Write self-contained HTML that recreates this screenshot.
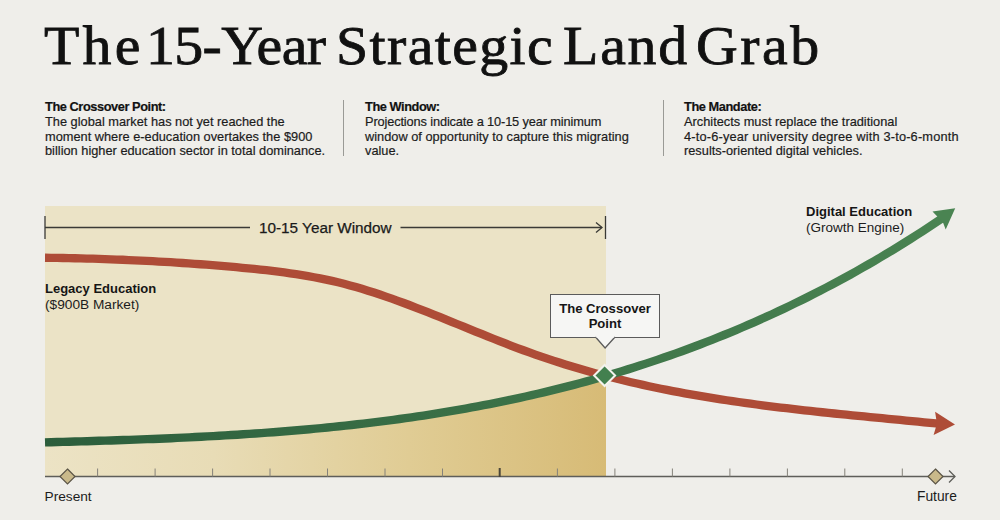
<!DOCTYPE html>
<html><head><meta charset="utf-8"><style>
html,body{margin:0;padding:0}
body{width:1000px;height:520px;background:#EFEEEA;position:relative;overflow:hidden;font-family:"Liberation Sans",sans-serif;color:#1b1b1b}
h1{position:absolute;left:44px;top:13.5px;margin:0;font-family:"Liberation Serif",serif;font-weight:normal;font-size:54.5px;line-height:64px;color:#111;white-space:nowrap;-webkit-text-stroke:0.8px #111;width:900px;height:64px}
h1 span{position:absolute;top:0;transform:scaleX(1.062);transform-origin:0 0}
.col{position:absolute;top:100px;font-size:13.3px;line-height:14.75px;color:#1c1c1c;white-space:nowrap;transform:scaleX(0.962);transform-origin:0 0;-webkit-text-stroke:0.2px #1c1c1c}
.col b{color:#111;letter-spacing:-0.45px}
.div{position:absolute;top:100px;width:1px;height:56px;background:#9a9a96}
svg{position:absolute;left:0;top:0}
.lbl{position:absolute;font-size:13px;line-height:16px;color:#1c1c1c;white-space:nowrap}
.lbl b{color:#151515}
.box{position:absolute;left:550px;top:294px;width:110px;height:44px;border:1.3px solid #5b5b5b;background:#F6F6F4;box-sizing:border-box;text-align:center;font-weight:bold;font-size:13.1px;line-height:15.5px;padding-top:5.5px;color:#151515}
</style></head><body>
<svg width="1000" height="520" viewBox="0 0 1000 520">
<defs>
<linearGradient id="gold" x1="45" y1="0" x2="606" y2="0" gradientUnits="userSpaceOnUse">
<stop offset="0" stop-color="#ECE3C5"/><stop offset="0.3" stop-color="#E8DCB6"/><stop offset="0.65" stop-color="#E0CC94"/><stop offset="1" stop-color="#D7BB76"/>
</linearGradient>
<linearGradient id="gr" x1="45" y1="0" x2="955" y2="0" gradientUnits="userSpaceOnUse">
<stop offset="0" stop-color="#2C5E3C"/><stop offset="1" stop-color="#4A8452"/>
</linearGradient>
<clipPath id="pc"><rect x="45" y="206" width="561" height="271"/></clipPath>
</defs>
<rect x="45" y="206" width="561" height="271" fill="#EBE3C6"/>
<path d="M45.00,442.35 L51.01,442.19 L57.02,442.03 L63.03,441.87 L69.03,441.70 L75.04,441.53 L81.05,441.36 L87.06,441.19 L93.07,441.01 L99.08,440.82 L105.09,440.64 L111.10,440.44 L117.10,440.25 L123.11,440.04 L129.12,439.83 L135.13,439.62 L141.14,439.40 L147.15,439.17 L153.16,438.93 L159.17,438.69 L165.17,438.44 L171.18,438.18 L177.19,437.91 L183.20,437.63 L189.21,437.35 L195.22,437.05 L201.23,436.75 L207.24,436.43 L213.24,436.11 L219.25,435.77 L225.26,435.42 L231.27,435.06 L237.28,434.69 L243.29,434.31 L249.30,433.92 L255.31,433.51 L261.31,433.09 L267.32,432.65 L273.33,432.20 L279.34,431.74 L285.35,431.26 L291.36,430.77 L297.37,430.26 L303.38,429.74 L309.38,429.20 L315.39,428.65 L321.40,428.08 L327.41,427.49 L333.42,426.89 L339.43,426.26 L345.44,425.62 L351.44,424.97 L357.45,424.29 L363.46,423.59 L369.47,422.88 L375.48,422.15 L381.49,421.39 L387.50,420.62 L393.51,419.82 L399.51,419.01 L405.52,418.17 L411.53,417.32 L417.54,416.44 L423.55,415.54 L429.56,414.61 L435.57,413.66 L441.58,412.69 L447.58,411.70 L453.59,410.68 L459.60,409.64 L465.61,408.58 L471.62,407.49 L477.63,406.37 L483.64,405.23 L489.65,404.06 L495.65,402.87 L501.66,401.65 L507.67,400.41 L513.68,399.13 L519.69,397.83 L525.70,396.50 L531.71,395.15 L537.72,393.76 L543.72,392.35 L549.73,390.91 L555.74,389.44 L561.75,387.93 L567.76,386.40 L573.77,384.84 L579.78,383.25 L585.79,381.62 L591.79,379.97 L597.80,378.28 L603.81,376.57 L609.82,374.81 L615.83,373.03 L621.84,371.22 L627.85,369.37 L633.86,367.48 L639.86,365.57 L645.87,363.62 L651.88,361.63 L657.89,359.61 L663.90,357.56 L669.91,355.47 L675.92,353.34 L681.92,351.18 L687.93,348.98 L693.94,346.74 L699.95,344.47 L705.96,342.16 L711.97,339.81 L717.98,337.43 L723.99,335.01 L729.99,332.54 L736.00,330.04 L742.01,327.50 L748.02,324.92 L754.03,322.30 L760.04,319.64 L766.05,316.94 L772.06,314.20 L778.06,311.42 L784.07,308.59 L790.08,305.73 L796.09,302.82 L802.10,299.87 L808.11,296.88 L814.12,293.84 L820.13,290.76 L826.13,287.64 L832.14,284.47 L838.15,281.26 L844.16,278.00 L850.17,274.70 L856.18,271.35 L862.19,267.96 L868.20,264.52 L874.20,261.04 L880.21,257.50 L886.22,253.93 L892.23,250.30 L898.24,246.63 L904.25,242.91 L910.26,239.14 L916.27,235.32 L922.27,231.45 L928.28,227.54 L934.29,223.57 L940.30,219.56 L940,477 L45,477 Z" fill="url(#gold)" clip-path="url(#pc)"/>
<g stroke="#3a3a36" stroke-width="1.3" fill="none">
<line x1="45" y1="216" x2="45" y2="239"/>
<line x1="45" y1="227.5" x2="250" y2="227.5"/>
<line x1="400.5" y1="227.5" x2="602" y2="227.5"/>
<polyline points="596,222.5 602,227.5 596,232.5"/>
<line x1="605.5" y1="216" x2="605.5" y2="239"/>
</g>
<g stroke="#5e5e5a" stroke-width="1.3" fill="none">
<line x1="45" y1="476.5" x2="955" y2="476.5"/>
<polyline points="949,470.5 955,476.5 949,482.5"/>
</g>
<g stroke="#85827a" stroke-width="1" fill="none"><line x1="97.6" y1="468.5" x2="97.6" y2="476.5"/><line x1="155.1" y1="468.5" x2="155.1" y2="476.5"/><line x1="212.6" y1="468.5" x2="212.6" y2="476.5"/><line x1="270.0" y1="468.5" x2="270.0" y2="476.5"/><line x1="327.5" y1="468.5" x2="327.5" y2="476.5"/><line x1="385.0" y1="468.5" x2="385.0" y2="476.5"/><line x1="442.5" y1="468.5" x2="442.5" y2="476.5"/><line x1="557.4" y1="468.5" x2="557.4" y2="476.5"/><line x1="614.9" y1="468.5" x2="614.9" y2="476.5"/><line x1="672.4" y1="468.5" x2="672.4" y2="476.5"/><line x1="729.9" y1="468.5" x2="729.9" y2="476.5"/><line x1="787.4" y1="468.5" x2="787.4" y2="476.5"/><line x1="844.8" y1="468.5" x2="844.8" y2="476.5"/><line x1="902.3" y1="468.5" x2="902.3" y2="476.5"/></g><line x1="499.7" y1="468" x2="499.7" y2="477" stroke="#4a463a" stroke-width="2"/>
<path d="M67.5,469 L75,476.5 L67.5,484 L60,476.5 Z" fill="#C9B98A" stroke="#5a5446" stroke-width="1.2"/>
<path d="M935.5,469 L943,476.5 L935.5,484 L928,476.5 Z" fill="#C9B98A" stroke="#5a5446" stroke-width="1.2"/>
<path d="M45.00,257.73 L50.98,257.80 L56.96,257.89 L62.94,258.00 L68.92,258.11 L74.90,258.24 L80.88,258.38 L86.86,258.54 L92.84,258.71 L98.82,258.89 L104.80,259.09 L110.78,259.30 L116.76,259.53 L122.74,259.77 L128.72,260.03 L134.70,260.30 L140.68,260.58 L146.66,260.88 L152.64,261.19 L158.62,261.52 L164.60,261.87 L170.58,262.23 L176.56,262.60 L182.54,262.99 L188.52,263.40 L194.50,263.82 L200.48,264.26 L206.46,264.71 L212.44,265.19 L218.42,265.67 L224.40,266.18 L230.38,266.70 L236.36,267.23 L242.34,267.79 L248.32,268.36 L254.30,268.95 L260.28,269.58 L266.26,270.23 L272.23,270.93 L278.21,271.66 L284.19,272.44 L290.17,273.28 L296.15,274.16 L302.13,275.11 L308.11,276.12 L314.09,277.21 L320.07,278.36 L326.05,279.59 L332.03,280.91 L338.01,282.32 L343.99,283.81 L349.97,285.40 L355.95,287.07 L361.93,288.82 L367.91,290.66 L373.89,292.56 L379.87,294.53 L385.85,296.56 L391.83,298.66 L397.81,300.80 L403.79,303.00 L409.77,305.24 L415.75,307.52 L421.73,309.84 L427.71,312.19 L433.69,314.56 L439.67,316.96 L445.65,319.37 L451.63,321.80 L457.61,324.23 L463.59,326.67 L469.57,329.11 L475.55,331.54 L481.53,333.96 L487.51,336.37 L493.49,338.76 L499.47,341.12 L505.45,343.46 L511.43,345.76 L517.41,348.02 L523.39,350.25 L529.37,352.42 L535.35,354.55 L541.33,356.62 L547.31,358.64 L553.29,360.62 L559.27,362.54 L565.25,364.42 L571.23,366.25 L577.21,368.04 L583.19,369.78 L589.17,371.48 L595.15,373.13 L601.13,374.74 L607.11,376.31 L613.09,377.84 L619.07,379.33 L625.05,380.77 L631.03,382.19 L637.01,383.56 L642.99,384.90 L648.97,386.20 L654.95,387.46 L660.93,388.70 L666.91,389.89 L672.89,391.06 L678.87,392.20 L684.85,393.30 L690.83,394.38 L696.81,395.42 L702.79,396.44 L708.77,397.43 L714.74,398.40 L720.72,399.34 L726.70,400.25 L732.68,401.15 L738.66,402.01 L744.64,402.86 L750.62,403.69 L756.60,404.49 L762.58,405.28 L768.56,406.04 L774.54,406.79 L780.52,407.53 L786.50,408.24 L792.48,408.94 L798.46,409.63 L804.44,410.31 L810.42,410.97 L816.40,411.62 L822.38,412.25 L828.36,412.88 L834.34,413.50 L840.32,414.11 L846.30,414.72 L852.28,415.31 L858.26,415.90 L864.24,416.49 L870.22,417.07 L876.20,417.65 L882.18,418.23 L888.16,418.80 L894.14,419.38 L900.12,419.95 L906.10,420.53 L912.08,421.10 L918.06,421.68 L924.04,422.27 L930.02,422.86 L936.00,423.45 l3,0.2" fill="none" stroke="#AE4C37" stroke-width="8.3"/>
<path d="M955,424.5 L935.1,411.7 L936.2,418.9 L935.8,427.5 L933.6,435 Z" fill="#AE4C37"/>
<path d="M45.00,442.35 L51.01,442.19 L57.02,442.03 L63.03,441.87 L69.03,441.70 L75.04,441.53 L81.05,441.36 L87.06,441.19 L93.07,441.01 L99.08,440.82 L105.09,440.64 L111.10,440.44 L117.10,440.25 L123.11,440.04 L129.12,439.83 L135.13,439.62 L141.14,439.40 L147.15,439.17 L153.16,438.93 L159.17,438.69 L165.17,438.44 L171.18,438.18 L177.19,437.91 L183.20,437.63 L189.21,437.35 L195.22,437.05 L201.23,436.75 L207.24,436.43 L213.24,436.11 L219.25,435.77 L225.26,435.42 L231.27,435.06 L237.28,434.69 L243.29,434.31 L249.30,433.92 L255.31,433.51 L261.31,433.09 L267.32,432.65 L273.33,432.20 L279.34,431.74 L285.35,431.26 L291.36,430.77 L297.37,430.26 L303.38,429.74 L309.38,429.20 L315.39,428.65 L321.40,428.08 L327.41,427.49 L333.42,426.89 L339.43,426.26 L345.44,425.62 L351.44,424.97 L357.45,424.29 L363.46,423.59 L369.47,422.88 L375.48,422.15 L381.49,421.39 L387.50,420.62 L393.51,419.82 L399.51,419.01 L405.52,418.17 L411.53,417.32 L417.54,416.44 L423.55,415.54 L429.56,414.61 L435.57,413.66 L441.58,412.69 L447.58,411.70 L453.59,410.68 L459.60,409.64 L465.61,408.58 L471.62,407.49 L477.63,406.37 L483.64,405.23 L489.65,404.06 L495.65,402.87 L501.66,401.65 L507.67,400.41 L513.68,399.13 L519.69,397.83 L525.70,396.50 L531.71,395.15 L537.72,393.76 L543.72,392.35 L549.73,390.91 L555.74,389.44 L561.75,387.93 L567.76,386.40 L573.77,384.84 L579.78,383.25 L585.79,381.62 L591.79,379.97 L597.80,378.28 L603.81,376.57 L609.82,374.81 L615.83,373.03 L621.84,371.22 L627.85,369.37 L633.86,367.48 L639.86,365.57 L645.87,363.62 L651.88,361.63 L657.89,359.61 L663.90,357.56 L669.91,355.47 L675.92,353.34 L681.92,351.18 L687.93,348.98 L693.94,346.74 L699.95,344.47 L705.96,342.16 L711.97,339.81 L717.98,337.43 L723.99,335.01 L729.99,332.54 L736.00,330.04 L742.01,327.50 L748.02,324.92 L754.03,322.30 L760.04,319.64 L766.05,316.94 L772.06,314.20 L778.06,311.42 L784.07,308.59 L790.08,305.73 L796.09,302.82 L802.10,299.87 L808.11,296.88 L814.12,293.84 L820.13,290.76 L826.13,287.64 L832.14,284.47 L838.15,281.26 L844.16,278.00 L850.17,274.70 L856.18,271.35 L862.19,267.96 L868.20,264.52 L874.20,261.04 L880.21,257.50 L886.22,253.93 L892.23,250.30 L898.24,246.63 L904.25,242.91 L910.26,239.14 L916.27,235.32 L922.27,231.45 L928.28,227.54 L934.29,223.57 L940.30,219.56 l2.5,-1.6" fill="none" stroke="url(#gr)" stroke-width="8.4"/>
<path d="M955.2,208.3 L932.5,211.5 L937.3,216.4 L943.3,223.3 L945.7,229.4 Z" fill="#4A8452"/>
<path d="M604.6,365 L615.1,375.5 L604.6,386 L594.1,375.5 Z" fill="#43804F" stroke="#F4F3EE" stroke-width="2"/>
</svg>
<h1><span style="left:0px;letter-spacing:3px">The</span><span style="left:102px;letter-spacing:-0.6px">15-Year</span><span style="left:292px;letter-spacing:1.3px">Strategic</span><span style="left:519px;letter-spacing:1.67px">Land</span><span style="left:652px;letter-spacing:2.33px">Grab</span></h1>
<div class="col" style="left:45px"><b>The Crossover Point:</b><br>The global market has not yet reached the<br>moment where e-education overtakes the $900<br>billion higher education sector in total dominance.</div>
<div class="div" style="left:343px"></div>
<div class="col" style="left:365px"><b>The Window:</b><br><span style="letter-spacing:-0.14px">Projections indicate a 10-15 year minimum</span><br>window of opportunity to capture this migrating<br>value.</div>
<div class="div" style="left:663px"></div>
<div class="col" style="left:684px"><b>The Mandate:</b><br>Architects must replace the traditional<br><span style="letter-spacing:0.18px">4-to-6-year university degree with 3-to-6-month</span><br>results-oriented digital vehicles.</div>
<div class="lbl" style="left:259px;top:219px;font-size:15.3px;line-height:17px;color:#1a1a1a;-webkit-text-stroke:0.25px #1a1a1a">10-15 Year Window</div>
<div class="lbl" style="left:45px;top:280.5px"><b>Legacy Education</b><br><span style="font-size:13.7px">($900B Market)</span></div>
<div class="lbl" style="left:806px;top:203.5px"><b>Digital Education</b><br><span style="font-size:13.5px">(Growth Engine)</span></div>
<div class="lbl" style="left:44.5px;top:489px;font-size:13.7px">Present</div>
<div class="lbl" style="left:917px;top:489px;font-size:13.8px">Future</div>
<div class="box">The Crossover<br>Point</div>
<svg width="1000" height="520" style="pointer-events:none"><path d="M595.5,337 L605.1,348 L615,337" fill="#F6F6F4" stroke="#5b5b5b" stroke-width="1.3"/><rect x="596.3" y="335" width="17.9" height="2.6" fill="#F6F6F4"/></svg>
</body></html>
